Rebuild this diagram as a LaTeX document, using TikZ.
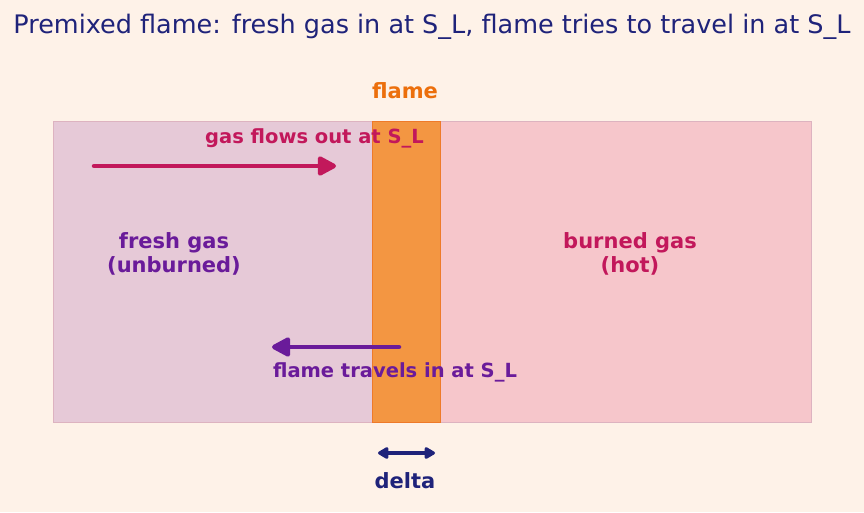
\documentclass[tikz,border=0pt]{standalone}
\usepackage{fontspec}
\setmainfont{DejaVu Sans}
\usetikzlibrary{arrows.meta}
\definecolor{bgc}{HTML}{FEF2E8}
\definecolor{navy}{HTML}{1F237A}
\definecolor{fresh}{HTML}{E6C9D7}
\definecolor{burned}{HTML}{F6C6CB}
\definecolor{edgec}{HTML}{DDB3C0}
\definecolor{flamec}{HTML}{F39642}
\definecolor{flamedge}{HTML}{EE7A2A}
\definecolor{orangeT}{HTML}{EC6F0C}
\definecolor{magentaT}{HTML}{C2185B}
\definecolor{purpleT}{HTML}{6A1B9A}
\tikzset{
  lbl/.style={font=\fontsize{21}{23.5}\selectfont\bfseries, align=center, inner sep=0pt},
  smlbl/.style={font=\fontsize{19.5}{22}\selectfont\bfseries, align=center, inner sep=0pt},
  fatarrow/.style={line width=4.5pt, line cap=round, -{Triangle[length=21pt,width=21pt,round]}},
}
\begin{document}
\begin{tikzpicture}[x=1pt,y=-1pt]
\fill[bgc] (0,0) rectangle (864,512);
\useasboundingbox (0,0) rectangle (864,512);
\node[font=\fontsize{25.5}{28}\selectfont, text=navy, inner sep=0pt] (title) at (432,27) {Premixed flame: fresh gas in at S\_L, flame tries to travel in at S\_L};
\node[draw=edgec, fill=fresh, minimum width=319pt, minimum height=301pt, inner sep=0pt, anchor=north west] (freshzone) at (53,121) {};
\node[draw=edgec, fill=burned, minimum width=371pt, minimum height=301pt, inner sep=0pt, anchor=north west] (burnedzone) at (440,121) {};
\node[draw=flamedge, fill=flamec, line width=1.2pt, minimum width=68pt, minimum height=301pt, inner sep=0pt, anchor=north west] (flame) at (372,121) {};
\node[lbl, text=orangeT] (flamelbl) at (405,91) {flame};
\node[smlbl, text=magentaT] (flowlbl) at (314.5,138) {gas flows out at S\_L};
\coordinate (fa) at (94,166);
\coordinate (fb) at (336,166);
\draw[fatarrow, magentaT] (fa) -- (fb);
\node[lbl, text=purpleT] (freshlbl) at (174,254) {fresh gas\\(unburned)};
\node[lbl, text=magentaT] (burnedlbl) at (630,254) {burned gas\\(hot)};
\coordinate (ta) at (399,347);
\coordinate (tb) at (272,347);
\draw[fatarrow, purpleT] (ta) -- (tb);
\node[smlbl, text=purpleT] (travellbl) at (395,372) {flame travels in at S\_L};
\coordinate (da) at (378,453);
\coordinate (db) at (435,453);
\draw[line width=3.5pt, navy, {Triangle[length=12pt,width=13pt,round]}-{Triangle[length=12pt,width=13pt,round]}] (da) -- (db);
\node[lbl, text=navy] (deltalbl) at (405,481) {delta};
\end{tikzpicture}
\end{document}
